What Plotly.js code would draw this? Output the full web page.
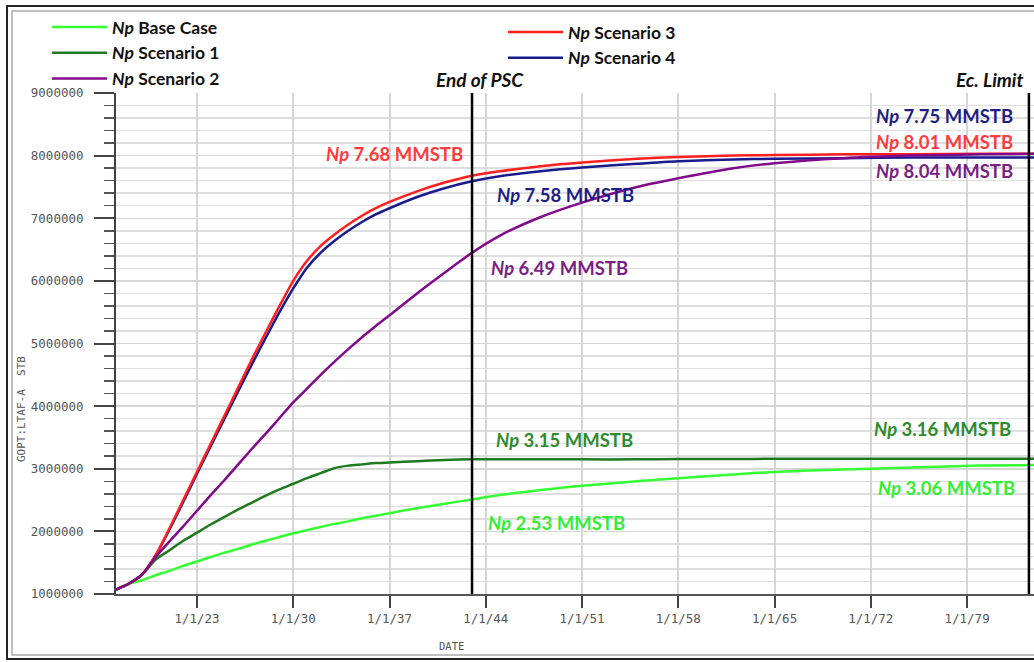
<!DOCTYPE html>
<html>
<head>
<meta charset="utf-8">
<script src="https://cdn.plot.ly/plotly-3.0.1.min.js"></script>
<style>html,body{margin:0;padding:0;background:#fff;}#chart{width:1034px;height:662px;}</style>
</head>
<body>
<div id="chart"></div>
<script>
// ---- data ----
const dates = ['2017-02-10','2018-01-01','2019-01-01','2020-01-01','2021-01-01','2022-01-01','2023-01-01','2024-01-01','2025-01-01','2026-01-01','2027-01-01','2028-01-01','2029-01-01','2030-01-01','2031-01-01','2032-01-01','2033-01-01','2034-01-01','2035-01-01','2036-01-01','2037-01-01','2039-01-01','2041-01-01','2043-01-01','2045-01-01','2048-01-01','2051-01-01','2055-01-01','2058-01-01','2062-01-01','2065-01-01','2070-01-01','2075-01-01','2080-01-01','2084-01-01'];
const baseCase  = [1070000,1160000,1220000,1300000,1370000,1450000,1520000,1590000,1660000,1720000,1790000,1850000,1910000,1970000,2020000,2070000,2120000,2160000,2210000,2250000,2290000,2370000,2440000,2510000,2580000,2660000,2730000,2800000,2850000,2910000,2950000,2990000,3020000,3050000,3060000];
const scenario1 = [1070000,1160000,1310000,1550000,1700000,1850000,1980000,2110000,2230000,2350000,2460000,2570000,2670000,2760000,2850000,2930000,3010000,3050000,3070000,3090000,3100000,3120000,3140000,3150000,3150000,3150000,3150000,3150000,3155000,3155000,3160000,3160000,3160000,3160000,3160000];
const scenario2 = [1070000,1160000,1310000,1590000,1840000,2080000,2330000,2580000,2820000,3070000,3320000,3560000,3810000,4060000,4280000,4500000,4710000,4910000,5100000,5280000,5450000,5800000,6130000,6450000,6720000,7020000,7250000,7500000,7640000,7800000,7880000,7960000,8000000,8020000,8030000];
const scenario3 = [1070000,1160000,1310000,1620000,2050000,2500000,2950000,3400000,3850000,4300000,4750000,5180000,5600000,6000000,6320000,6560000,6740000,6900000,7040000,7160000,7260000,7430000,7570000,7680000,7750000,7830000,7890000,7950000,7980000,8000000,8010000,8020000,8020000,8030000,8030000];
const scenario4 = [1070000,1160000,1310000,1620000,2030000,2470000,2920000,3360000,3800000,4240000,4670000,5090000,5500000,5880000,6210000,6450000,6640000,6800000,6940000,7060000,7160000,7340000,7480000,7590000,7670000,7750000,7810000,7870000,7910000,7940000,7950000,7960000,7970000,7970000,7970000];

const seriesNames  = ['Base Case','Scenario 1','Scenario 2','Scenario 3','Scenario 4'];
const seriesValues = [baseCase, scenario1, scenario2, scenario3, scenario4];
const seriesColors = ['#33ff33','#1f7a1f','#800a8a','#ff1f1f','#1a1a8c'];

const tickDates  = ['2023-01-01','2030-01-01','2037-01-01','2044-01-01','2051-01-01','2058-01-01','2065-01-01','2072-01-01','2079-01-01'];
const tickLabels = ['1/1/23','1/1/30','1/1/37','1/1/44','1/1/51','1/1/58','1/1/65','1/1/72','1/1/79'];

const markerDates  = ['2043-01-01','2083-07-01'];
const markerLabels = ['End of PSC','Ec. Limit'];

const npLabels = ['Np 7.68 MMSTB','Np 7.58 MMSTB','Np 6.49 MMSTB','Np 7.75 MMSTB','Np 8.01 MMSTB','Np 8.04 MMSTB','Np 3.15 MMSTB','Np 2.53 MMSTB','Np 3.16 MMSTB','Np 3.06 MMSTB'];
const npColors = ['#ff3b3b','#1e1e86','#7a1f86','#1e1e86','#ff3b3b','#7a1f86','#2e8b2e','#33ee33','#2e8b2e','#33ee33'];

// ---- geometry helpers (pixel layout of the plot area) ----
const L = 116, R = 1034, T = 93, B = 594;
const W = R - L, H = B - T;
const px = x => (x - L) / W;
const py = y => (B - y) / H;

// draw order: lime, dark green, blue, red, purple
const drawOrder = [0,1,4,3,2];
const legendOf = ['legend','legend','legend','legend2','legend2'];
const traces = drawOrder.map(i => ({
  type: 'scatter', mode: 'lines', x: dates, y: seriesValues[i],
  name: '<b><i>Np</i> ' + seriesNames[i] + '</b>',
  line: {color: seriesColors[i], width: 2.5, shape: 'spline', smoothing: 0.7},
  legend: legendOf[i], legendrank: i + 1,
  hoverinfo: 'x+y'
}));

const npPos = [[394,154],[565,195],[559,268],[944,116],[944,142],[944,171],[564,440],[556,523],[942,429],[946,488]];
const annotations = npLabels.map((t, i) => ({
  xref: 'paper', yref: 'paper', x: px(npPos[i][0]), y: py(npPos[i][1]),
  xanchor: 'center', yanchor: 'middle', showarrow: false,
  text: '<b>' + t.replace('Np', '<i>Np</i>') + '</b>',
  font: {family: 'Lato', size: 18.5, color: npColors[i]}
}));
const markerTextPos = [[480,80],[990,80]];
markerLabels.forEach((t, i) => annotations.push({
  xref: 'paper', yref: 'paper', x: px(markerTextPos[i][0]), y: py(markerTextPos[i][1]),
  xanchor: 'center', yanchor: 'middle', showarrow: false,
  text: '<b><i>' + t + '</i></b>', font: {family: 'Lato', size: 19, color: '#111'}
}));
annotations.push({xref:'paper', yref:'paper', x: px(451), y: py(646), xanchor:'center', yanchor:'middle', showarrow:false,
  text:'DATE', font:{family:'DejaVu Sans Mono', size:10.5, color:'#555'}});
annotations.push({xref:'paper', yref:'paper', x: px(21), y: py(409), xanchor:'center', yanchor:'middle', showarrow:false, textangle:-90,
  text:'GOPT:LTAF-A  STB', font:{family:'DejaVu Sans Mono', size:11, color:'#555'}});

const shapes = markerDates.map(d => ({
  type:'line', xref:'x', yref:'paper', x0:d, x1:d, y0:0, y1:1,
  line:{color:'#000', width:2.5}
}));
shapes.push({type:'rect', xref:'paper', yref:'paper', x0:px(7), x1:px(1060), y0:py(659), y1:py(6),
  line:{color:'#222', width:2}, layer:'below'});
shapes.push({type:'rect', xref:'paper', yref:'paper', x0:px(12), x1:px(1060), y0:py(655), y1:py(11),
  line:{color:'#aaa', width:1.5}, layer:'below'});

const layout = {
  width: 1034, height: 662,
  margin: {l: L, r: 1034 - R, t: T, b: 662 - B, pad: 0},
  paper_bgcolor: '#fff', plot_bgcolor: '#fff',
  showlegend: true,
  legend: {x: px(47), y: py(9), xanchor:'left', yanchor:'top', bgcolor:'rgba(0,0,0,0)',
    font:{family:'Lato', size:17.5, color:'#111'}, itemwidth: 55, tracegroupgap: 0},
  legend2: {x: px(503), y: py(14), xanchor:'left', yanchor:'top', bgcolor:'rgba(0,0,0,0)',
    font:{family:'Lato', size:17.5, color:'#111'}, itemwidth: 55, tracegroupgap: 0},
  xaxis: {
    type:'date', range:['2017-02-10','2083-11-13'],
    tickmode:'array', tickvals: tickDates, ticktext: tickLabels,
    ticks:'outside', ticklen: 12, tickwidth: 2, tickcolor:'#444',
    showline:true, linecolor:'#555', linewidth:2,
    showgrid:true, gridcolor:'#d6d6d6', gridwidth:2, zeroline:false,
    tickfont:{family:'DejaVu Sans Mono', size:12.5, color:'#555'}
  },
  yaxis: {
    range:[1000000, 9000000], dtick:1000000, tick0:1000000, tickformat:'d',
    ticks:'outside', ticklen: 20, tickwidth: 2, tickcolor:'#444',
    showline:true, linecolor:'#444', linewidth:2,
    showgrid:true, gridcolor:'#d6d6d6', gridwidth:1.5, zeroline:false,
    ticklabelstandoff: 8,
    tickfont:{family:'DejaVu Sans Mono', size:12.5, color:'#555'},
    minor:{dtick:200000, ticks:'outside', ticklen:10, tickwidth:1.5, tickcolor:'#555', showgrid:true, gridcolor:'#dedede', gridwidth:1.5}
  },
  annotations, shapes
};

Plotly.newPlot('chart', traces, layout, {displayModeBar:false, staticPlot:true});
</script>
</body>
</html>
